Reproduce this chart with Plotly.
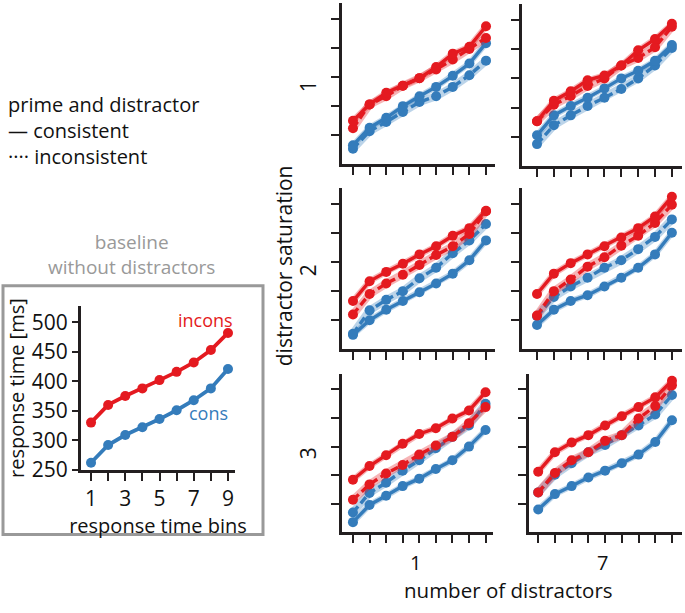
import plotly.graph_objects as go

W, H = 685, 613
FONT = "Open Sans"
RED = "rgb(228,26,32)"
BLUE = "rgb(52,124,187)"
RED_BAND = "rgba(228,26,32,0.33)"
BLUE_BAND = "rgba(52,124,187,0.33)"
AX = "#231f20"

bins = [1, 2, 3, 4, 5, 6, 7, 8, 9]

# baseline without distractors
base_incons = [330, 360, 375, 388, 402, 416, 432, 453, 482]
base_cons = [262, 292, 309, 322, 336, 351, 368, 388, 421]

# panels: (saturation, distractors) -> four series
s1_d1_inc_con = [325, 353, 373, 385, 398, 417, 440, 452, 487]
s1_d1_inc_inc = [312, 353, 367, 385, 398, 413, 430, 448, 467]
s1_d1_con_con = [283, 313, 330, 350, 367, 383, 402, 423, 458]
s1_d1_con_inc = [277, 307, 323, 340, 357, 367, 383, 403, 428]

s1_d7_inc_con = [327, 362, 378, 397, 405, 422, 448, 467, 493]
s1_d7_inc_inc = [327, 355, 370, 387, 400, 422, 435, 453, 488]
s1_d7_con_con = [303, 337, 353, 367, 383, 400, 413, 430, 457]
s1_d7_con_inc = [288, 320, 337, 353, 367, 382, 400, 422, 452]

s2_d1_inc_con = [333, 367, 383, 397, 413, 427, 445, 458, 488]
s2_d1_inc_inc = [310, 345, 363, 378, 395, 412, 427, 448, 487]
s2_d1_con_con = [275, 300, 318, 333, 348, 363, 380, 403, 437]
s2_d1_con_inc = [277, 317, 335, 350, 372, 390, 415, 437, 465]

s2_d7_inc_con = [345, 380, 398, 413, 427, 442, 458, 478, 512]
s2_d7_inc_inc = [308, 350, 370, 392, 408, 428, 445, 467, 498]
s2_d7_con_con = [292, 318, 333, 343, 358, 373, 390, 413, 450]
s2_d7_con_inc = [307, 340, 358, 373, 390, 403, 422, 443, 473]

s3_d1_inc_con = [342, 366, 385, 405, 422, 432, 449, 463, 495]
s3_d1_inc_inc = [307, 334, 353, 368, 386, 402, 417, 441, 469]
s3_d1_con_con = [268, 298, 314, 331, 344, 361, 376, 400, 429]
s3_d1_con_inc = [285, 319, 337, 358, 376, 397, 417, 437, 475]

s3_d7_inc_con = [356, 390, 407, 420, 437, 453, 469, 486, 515]
s3_d7_inc_inc = [320, 354, 376, 390, 410, 420, 449, 471, 507]
s3_d7_con_con = [290, 317, 331, 346, 358, 371, 386, 408, 446]
s3_d7_con_inc = [320, 351, 371, 390, 403, 420, 437, 456, 490]

panel_ticks = [300, 350, 400, 450, 500]
base_ticks = [250, 300, 350, 400, 450, 500]
row_labels = ["1", "2", "3"]
col_labels = ["1", "7"]

panels = [
    (s1_d1_inc_con, s1_d1_inc_inc, s1_d1_con_con, s1_d1_con_inc),
    (s1_d7_inc_con, s1_d7_inc_inc, s1_d7_con_con, s1_d7_con_inc),
    (s2_d1_inc_con, s2_d1_inc_inc, s2_d1_con_con, s2_d1_con_inc),
    (s2_d7_inc_con, s2_d7_inc_inc, s2_d7_con_con, s2_d7_con_inc),
    (s3_d1_inc_con, s3_d1_inc_inc, s3_d1_con_con, s3_d1_con_inc),
    (s3_d7_inc_con, s3_d7_inc_inc, s3_d7_con_con, s3_d7_con_inc),
]

# pixel boxes (x0, x1, ytop, ybot) and x ranges
boxes = [
    (342, 495, 3, 168, [0.34, 9.54]),
    (522, 682, 4, 170, [0.11, 9.6]),
    (342, 495, 192, 357, [0.34, 9.54]),
    (522, 682, 192, 357, [0.11, 9.6]),
    (342, 493, 382, 544, [0.34, 9.45]),
    (529, 682, 382, 544, [0.45, 9.6]),
]


def dom_x(a, b):
    return [a / W, b / W]


def dom_y(top, bot):
    return [1 - bot / H, 1 - top / H]


fig = go.Figure()


def add_series(xref, yref, y, color, band, dash):
    fig.add_trace(go.Scatter(x=bins, y=y, xaxis=xref, yaxis=yref, mode="lines",
                             line=dict(color=band, width=8 if dash else 6),
                             hoverinfo="skip", showlegend=False, cliponaxis=False))
    fig.add_trace(go.Scatter(x=bins, y=y, xaxis=xref, yaxis=yref, mode="lines+markers",
                             line=dict(color=color, width=3.4, dash="8px,4px" if dash else "solid"),
                             marker=dict(color=color, size=10),
                             showlegend=False, cliponaxis=False))


layout = {}
for i, (p, b) in enumerate(zip(panels, boxes)):
    n = i + 2
    xa, ya = f"x{n}", f"y{n}"
    inc_con, inc_inc, con_con, con_inc = p
    add_series(xa, ya, con_inc, BLUE, BLUE_BAND, True)
    add_series(xa, ya, con_con, BLUE, BLUE_BAND, False)
    add_series(xa, ya, inc_inc, RED, RED_BAND, True)
    add_series(xa, ya, inc_con, RED, RED_BAND, False)
    x0, x1, yt, yb, xr = b
    layout[f"xaxis{n}"] = dict(domain=dom_x(x0, x1), anchor=ya, range=xr,
                               tickvals=bins, showticklabels=False, ticks="outside",
                               ticklen=8, tickwidth=2.4, tickcolor=AX, showline=True,
                               linecolor=AX, linewidth=2.8, showgrid=False, zeroline=False,
                               fixedrange=True)
    layout[f"yaxis{n}"] = dict(domain=dom_y(yt, yb), anchor=xa, range=[250, 527],
                               tickvals=panel_ticks, showticklabels=False, ticks="outside",
                               ticklen=8, tickwidth=2.4, tickcolor=AX, showline=True,
                               linecolor=AX, linewidth=2.8, showgrid=False, zeroline=False,
                               fixedrange=True)

# baseline inset
fig.add_trace(go.Scatter(x=bins, y=base_cons, xaxis="x", yaxis="y", mode="lines+markers",
                         line=dict(color=BLUE, width=3.8), marker=dict(color=BLUE, size=10),
                         showlegend=False, cliponaxis=False))
fig.add_trace(go.Scatter(x=bins, y=base_incons, xaxis="x", yaxis="y", mode="lines+markers",
                         line=dict(color=RED, width=3.8), marker=dict(color=RED, size=10),
                         showlegend=False, cliponaxis=False))

layout["xaxis"] = dict(domain=dom_x(81, 235), anchor="y", range=[0.415, 9.41],
                       tickvals=bins,
                       ticktext=[str(v) if v % 2 == 1 else "" for v in bins],
                       ticks="outside", ticklen=8, tickwidth=2.4, tickcolor=AX,
                       showline=True, linecolor=AX, linewidth=2.8, showgrid=False,
                       zeroline=False, tickfont=dict(family=FONT, size=21, color="#111"),
                       title=dict(text="response time bins", standoff=0,
                                  font=dict(family=FONT, size=20, color="#111")),
                       fixedrange=True)
layout["yaxis"] = dict(domain=dom_y(313, 480), anchor="x", range=[250, 527],
                       tickvals=base_ticks, ticks="outside", ticklen=6, tickwidth=2.4,
                       tickcolor=AX, showline=True, linecolor=AX, linewidth=2.8,
                       showgrid=False, zeroline=False,
                       tickfont=dict(family=FONT, size=21, color="#111"),
                       title=dict(text="response time [ms]", standoff=2,
                                  font=dict(family=FONT, size=20, color="#111")),
                       fixedrange=True)

ann = []


def txt(x, y, s, size=18, color="#111", angle=0, xanchor="center"):
    ann.append(dict(x=x / W, y=1 - y / H, xref="paper", yref="paper", text=s,
                    showarrow=False, textangle=angle, xanchor=xanchor, yanchor="middle",
                    font=dict(family=FONT, size=size, color=color)))


txt(6, 107, "prime and distractor", 20, xanchor="left")
txt(6, 133, "— consistent", 20, xanchor="left")
txt(6, 160, "···· inconsistent", 20, xanchor="left")
txt(131, 260, "baseline<br>without distractors", 19, color="#999")
txt(205, 327, "incons", 18, color=RED)
txt(208, 422, "cons", 18, color=BLUE)
txt(284, 272, "distractor saturation", 21, angle=-90)
for lab, yy in zip(row_labels, [88, 276, 463]):
    txt(308, yy, lab, 21, angle=-90)
for lab, xx in zip(col_labels, [415, 602]):
    txt(xx, 575, lab, 20)
txt(508, 603, "number of distractors", 20.5)

shapes = [dict(type="rect", xref="paper", yref="paper", x0=3 / W, x1=263 / W,
               y0=1 - 546 / H, y1=1 - 292 / H, line=dict(color="#999", width=3))]

fig.update_layout(width=W, height=H, margin=dict(l=0, r=0, t=0, b=0),
                  plot_bgcolor="white", paper_bgcolor="white",
                  annotations=ann, shapes=shapes, showlegend=False, **layout)

fig.write_html("out.html", config={"displayModeBar": False},
               post_script="document.body.style.margin='0';document.body.style.overflow='hidden';")
